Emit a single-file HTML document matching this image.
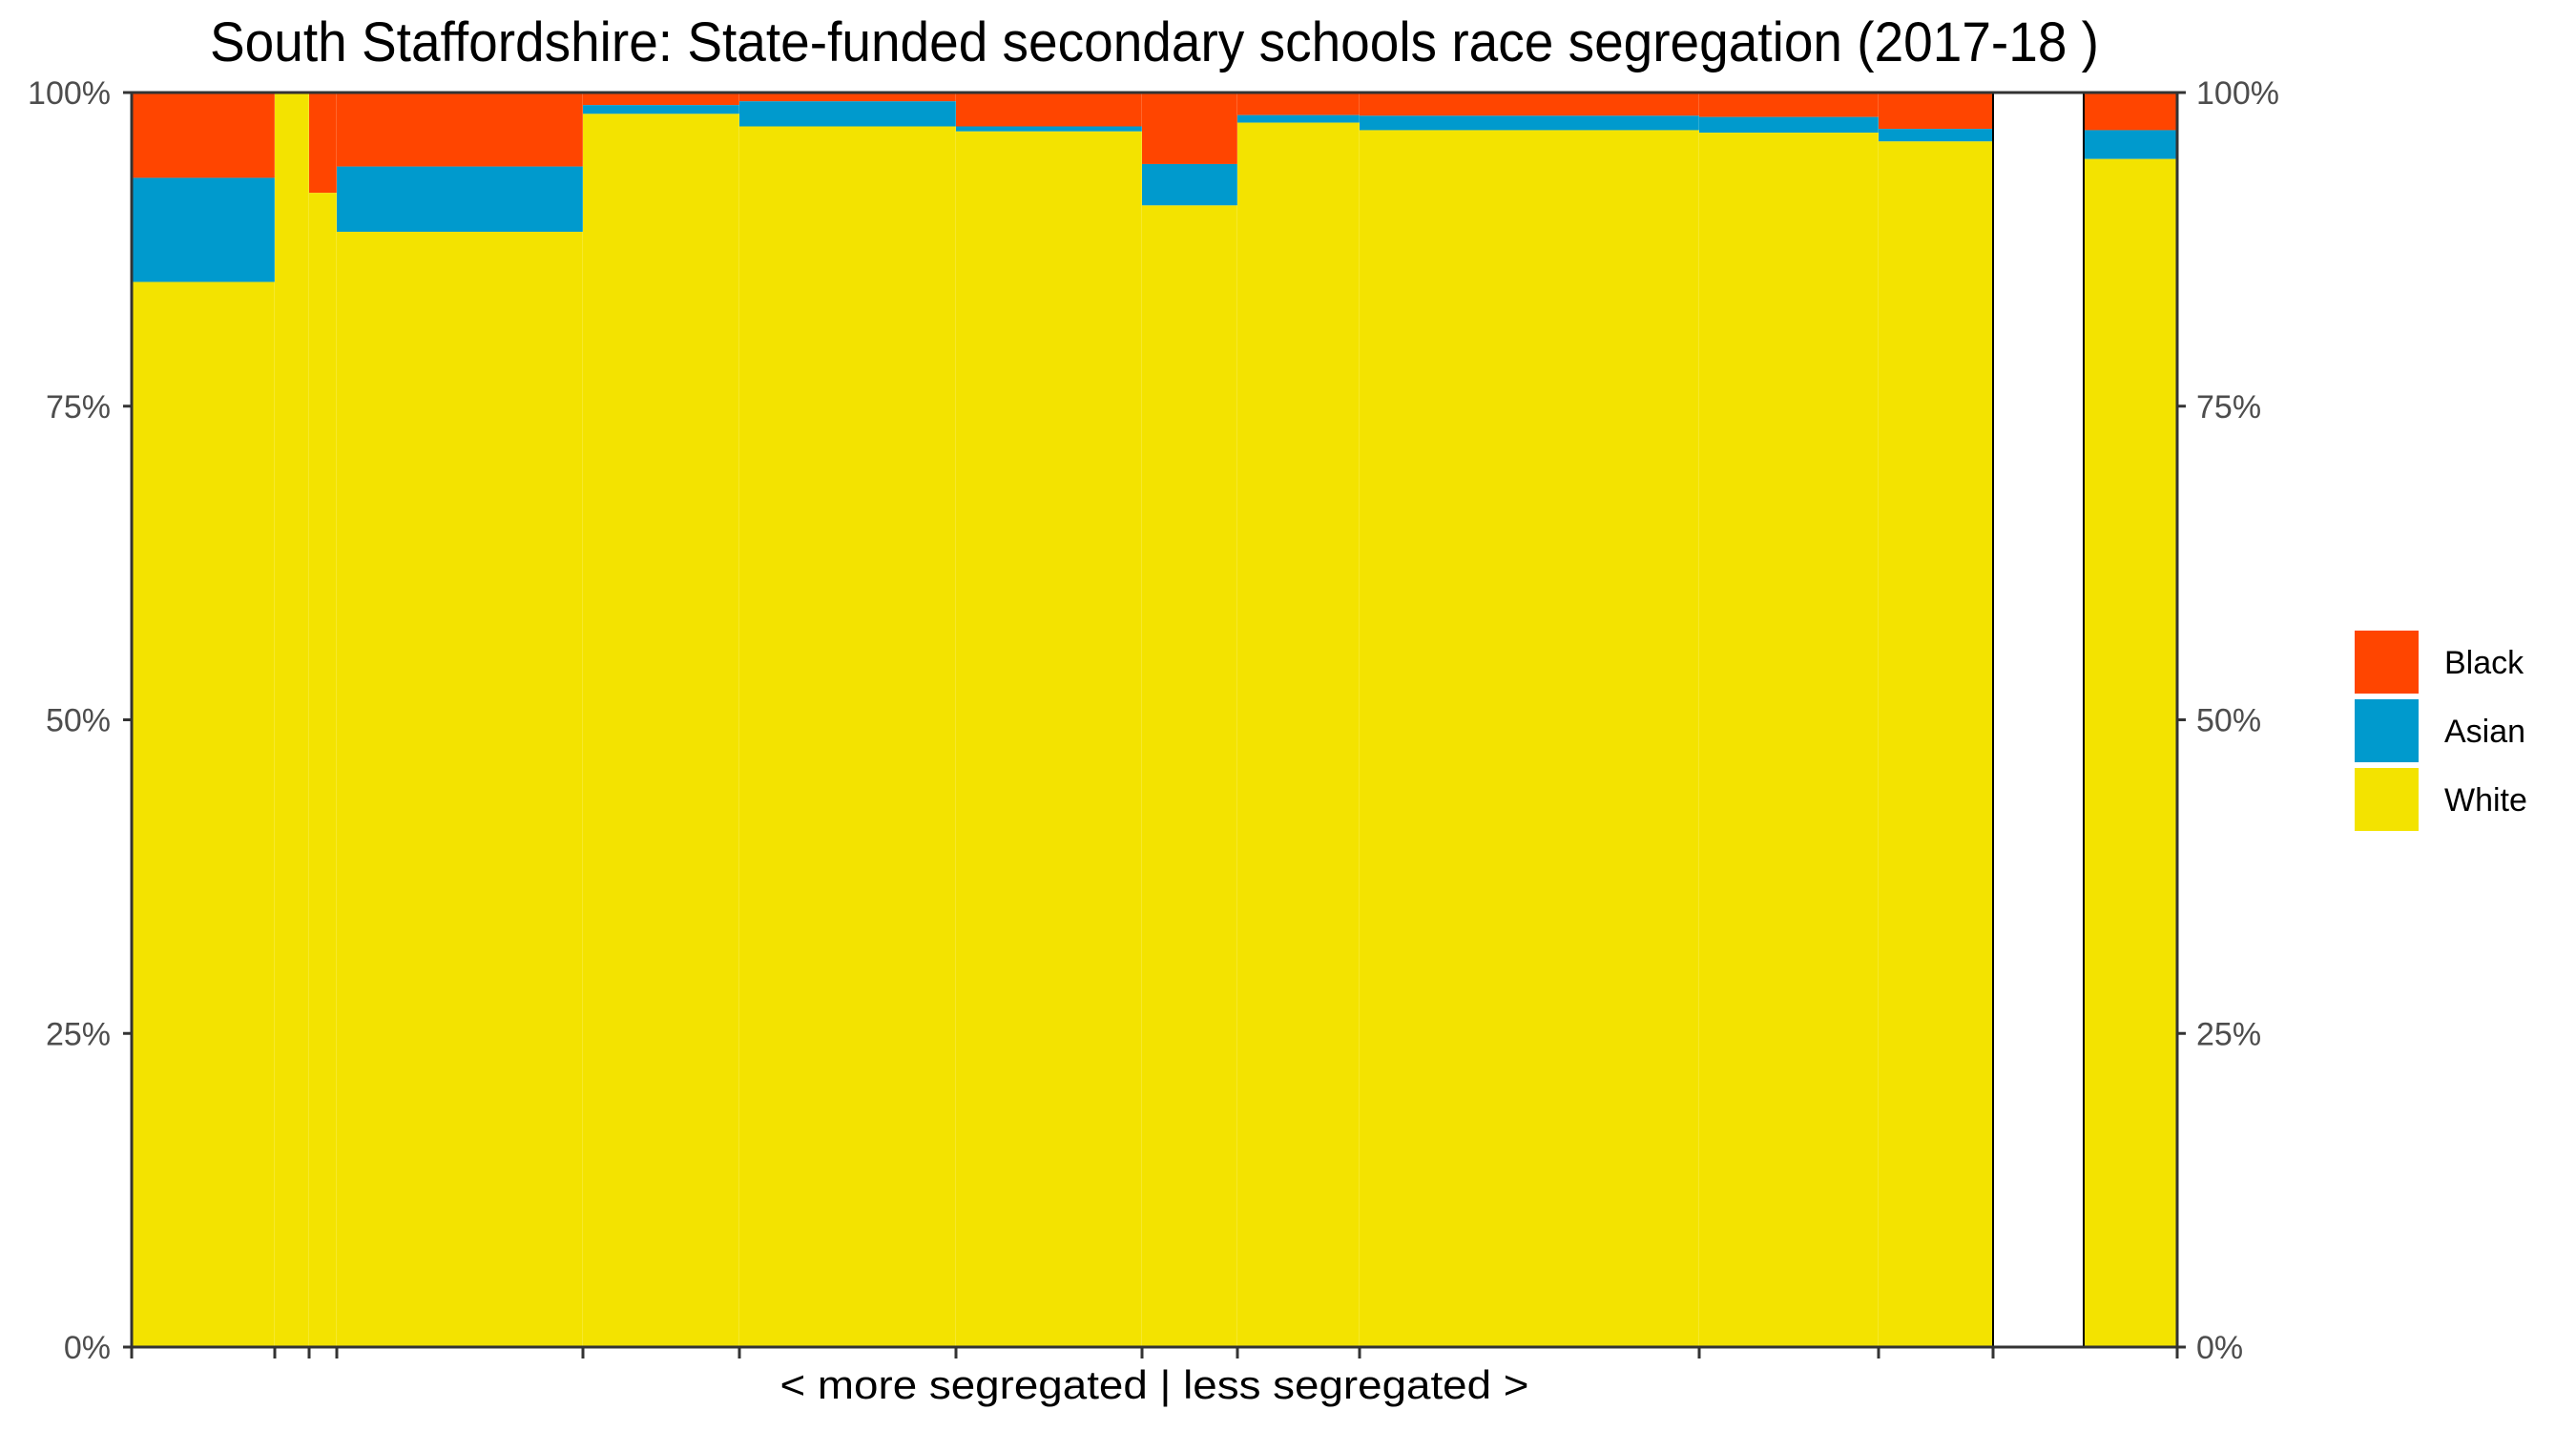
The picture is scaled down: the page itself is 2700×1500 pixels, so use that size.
<!DOCTYPE html>
<html><head><meta charset="utf-8"><style>
html,body{margin:0;padding:0;background:#fff;}
svg{display:block;font-family:"Liberation Sans",Arial,sans-serif;}
</style></head><body>
<svg id="chart" width="2700" height="1500" viewBox="0 0 2700 1500">
<text x="1210" y="64" font-size="58" text-anchor="middle" textLength="1980" lengthAdjust="spacingAndGlyphs" fill="#000">South Staffordshire: State-funded secondary schools race segregation (2017-18 )</text>
<text x="1210" y="1466" font-size="42" text-anchor="middle" textLength="785" lengthAdjust="spacingAndGlyphs" fill="#000">&lt; more segregated | less segregated &gt;</text>
<g id="bars"></g>
<g id="axes"></g>
<g>
<rect x="2468" y="661" width="67" height="66" fill="#FF4500"/>
<text x="2562" y="706" font-size="34" fill="#000">Black</text>
<rect x="2468" y="733" width="67" height="66" fill="#009ACD"/>
<text x="2562" y="778" font-size="34" fill="#000">Asian</text>
<rect x="2468" y="805" width="67" height="66" fill="#F3E300"/>
<text x="2562" y="850" font-size="34" fill="#000">White</text>
</g>
</svg>
<script>
// school widths (relative pupil counts); a null entry is an empty column
const schools = ["s1","s2","s3","s4","s5","s6","s7","s8","s9","s10","s11","s12","gap","s13"];
const widths = [150,36,29,258,164,227,195,100,128,356,188,120,95,98];
const whitePct = [84.9,100,92.0,88.9,98.3,97.3,96.9,91.0,97.6,97.0,96.8,96.1,null,94.7];
const asianTopPct = [93.2,100,92.0,94.1,99.0,99.3,97.3,94.3,98.2,98.15,98.05,97.1,null,97.0];
const yTicks = [0,25,50,75,100];
const yTickLabels = ["0%","25%","50%","75%","100%"];

const NS = "http://www.w3.org/2000/svg";
const L = 138, R = 2282, T = 97, B = 1412;
const total = widths.reduce((a,b)=>a+b,0);
const xs = v => L + (R - L) * v / total;
const ys = p => B - (B - T) * p / 100;
function mk(tag, attrs, parent){
  const e = document.createElementNS(NS, tag);
  for (const k in attrs) e.setAttribute(k, attrs[k]);
  parent.appendChild(e);
  return e;
}
const bars = document.getElementById('bars');
const axes = document.getElementById('axes');
let cum = 0;
const tickXs = [xs(0)];
schools.forEach((s,i)=>{
  const x0 = xs(cum), x1 = xs(cum + widths[i]);
  cum += widths[i];
  if (whitePct[i] === null) {
    const g = mk('rect',{x:x0,y:T,width:x1-x0,height:B-T,fill:'#fff',stroke:'#000','stroke-width':2},bars);
    
    
    return;
  }
  tickXs.push(x1);
  const w = x1 - x0;
  const rb = mk('rect',{x:x0,y:T,width:w,height:ys(asianTopPct[i])-T,fill:'#FF4500'},bars);
  
  
  const ra = mk('rect',{x:x0,y:ys(asianTopPct[i]),width:w,height:ys(whitePct[i])-ys(asianTopPct[i]),fill:'#009ACD'},bars);
  
  
  const rw = mk('rect',{x:x0,y:ys(whitePct[i]),width:w,height:B-ys(whitePct[i]),fill:'#F3E300'},bars);
  
  
  const sep = mk('line',{x1:x1,y1:T,x2:x1,y2:B,stroke:'rgba(255,255,255,0.35)','stroke-width':1},bars);
  
  
  if (i === schools.length-1) {
    const o = mk('rect',{x:x0,y:T,width:w,height:B-T,fill:'none',stroke:'#000','stroke-width':2},bars);
    
    
  }
});
// frame
const fr = mk('rect',{x:L,y:T,width:R-L,height:B-T,fill:'none',stroke:'#333','stroke-width':3},axes);


// y ticks both sides
yTicks.forEach((v,i)=>{
  const y = ys(v);
  const t1 = mk('line',{x1:L-9,y1:y,x2:L,y2:y,stroke:'#333','stroke-width':3},axes);
  
  
  const t2 = mk('line',{x1:R,y1:y,x2:R+9,y2:y,stroke:'#333','stroke-width':3},axes);
  
  
  const l1 = mk('text',{x:L-22,y:y+12,'font-size':34,'text-anchor':'end',fill:'#4d4d4d'},axes);
  l1.textContent = yTickLabels[i];
  
  
  const l2 = mk('text',{x:R+20,y:y+12,'font-size':34,'text-anchor':'start',fill:'#4d4d4d'},axes);
  l2.textContent = yTickLabels[i];
  
  
});
tickXs.forEach(x=>{
  const t = mk('line',{x1:x,y1:B,x2:x,y2:B+12,stroke:'#333','stroke-width':3},axes);
  
  
});
</script>
</body></html>
